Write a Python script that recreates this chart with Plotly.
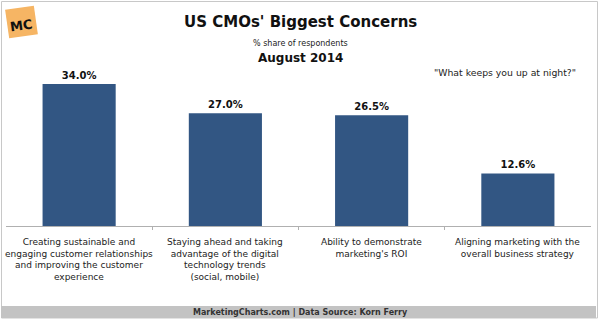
import math
import plotly.graph_objects as go

categories = [
    "Creating sustainable and<br>engaging customer relationships<br>and improving the customer<br>experience",
    "Staying ahead and taking<br>advantage of the digital<br>technology trends<br>(social, mobile)",
    "Ability to demonstrate<br>marketing's ROI",
    "Aligning marketing with the<br>overall business strategy",
]
values = [34.0, 27.0, 26.5, 12.6]
value_labels = ["<b>34.0%</b>", "<b>27.0%</b>", "<b>26.5%</b>", "<b>12.6%</b>"]

W, H = 600, 324
FONT = "DejaVu Sans"
BAR = "#325683"


def px(x):
    return x / W


def py(y):
    return 1 - y / H


fig = go.Figure()
fig.add_trace(go.Bar(
    x=list(range(len(categories))), y=values,
    marker=dict(color=BAR, line=dict(width=0)),
    width=0.5,
    text=value_labels, textposition="outside",
    textfont=dict(family=FONT, size=10, color="#111"),
    cliponaxis=False,
    hoverinfo="skip",
))

annotations = []
for i, c in enumerate(categories):
    annotations.append(dict(
        x=i, xref="x", y=py(235), yref="paper", yanchor="top", xanchor="center",
        text=c, showarrow=False, align="center",
        font=dict(family=FONT, size=9, color="#222"),
    ))


def note(x, y, text, size, color="#111"):
    return dict(x=px(x), y=py(y), xref="paper", yref="paper", xanchor="center", yanchor="middle",
                text=text, showarrow=False, font=dict(family=FONT, size=size, color=color))


annotations += [
    note(300, 22, "<b>US CMOs' Biggest Concerns</b>", 15),
    note(300, 44, "% share of respondents", 8, "#222"),
    note(300, 58, "<b>August 2014</b>", 12),
    note(505, 72, "\"What keeps you up at night?\"", 9.3, "#222"),
    note(300, 312, "<b>MarketingCharts.com | Data Source: Korn Ferry</b>", 8, "#333"),
]
mc = note(21, 25, "<b>MC</b>", 13)
mc["textangle"] = -8
annotations.append(mc)

cx, cy, s, ang = 21.5, 22, 29, math.radians(-8)
pts = []
for dx, dy in [(-1, -1), (1, -1), (1, 1), (-1, 1)]:
    x = cx + (dx * s / 2) * math.cos(ang) - (dy * s / 2) * math.sin(ang)
    y = cy + (dx * s / 2) * math.sin(ang) + (dy * s / 2) * math.cos(ang)
    pts.append((px(x), py(y)))
path = "M " + " L ".join(f"{a:.4f},{b:.4f}" for a, b in pts) + " Z"

shapes = [
    dict(type="rect", xref="paper", yref="paper", x0=px(1.5), x1=px(597.5), y0=py(318), y1=py(1.5),
         line=dict(color="#c8c8c8", width=1), fillcolor="rgba(0,0,0,0)", layer="below"),
    dict(type="rect", xref="paper", yref="paper", x0=px(1), x1=px(596), y0=py(318), y1=py(306),
         line=dict(width=0), fillcolor="#c3c3c3", layer="below"),
    dict(type="path", xref="paper", yref="paper", path=path,
         line=dict(width=0), fillcolor="#f6b564", layer="below"),
]

fig.update_layout(
    width=W, height=H,
    margin=dict(l=0, r=0, t=0, b=0),
    paper_bgcolor="white", plot_bgcolor="white",
    showlegend=False,
    bargap=0.5,
    xaxis=dict(domain=[px(6), px(591)], range=[-0.5, 3.5], showgrid=False, zeroline=False,
               showline=True, linecolor="#b0b0b0", linewidth=1,
               tickmode="array", tickvals=[0.5, 1.5, 2.5], ticktext=["", "", ""],
               ticks="outside", ticklen=3, tickcolor="#b0b0b0",
               showticklabels=False, fixedrange=True),
    yaxis=dict(domain=[py(226), py(59)], range=[0, 40], visible=False, fixedrange=True),
    annotations=annotations,
    shapes=shapes,
)

fig.write_html("out.html")
